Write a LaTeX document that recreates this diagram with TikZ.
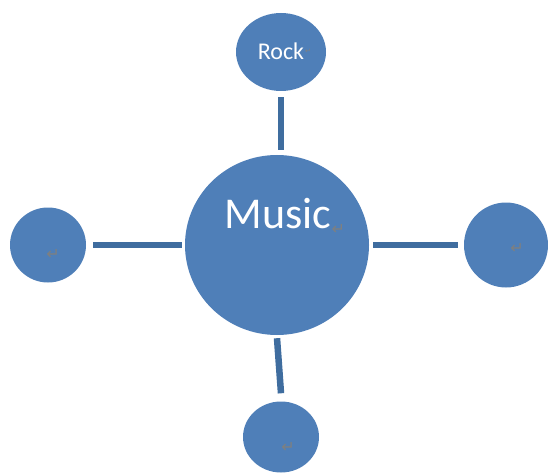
\documentclass[tikz,border=0pt]{standalone}
\usepackage{fontspec}
\setmainfont{Carlito}
\newfontfamily\symfont{DejaVu Sans}
\usetikzlibrary{shapes.geometric}
\definecolor{fillblue}{HTML}{4F7FB8}
\definecolor{lineblue}{HTML}{3F6D9F}
\definecolor{retgray}{HTML}{7F7F7F}
\begin{document}
\begin{tikzpicture}[x=1pt,y=-1pt,
 bub/.style={ellipse, fill=fillblue, inner sep=0pt},
 link/.style={draw=lineblue, line width=6.5pt},
 lbl/.style={text=white, inner sep=0pt},
 ret/.style={text=retgray, font=\symfont\fontsize{16}{16}\selectfont, inner sep=0pt}]
\useasboundingbox (0,0) rectangle (548,473);
\node[bub, minimum width=184pt, minimum height=180pt] (music) at (277,245) {};
\node[bub, minimum width=90pt, minimum height=78pt] (rock) at (281,52) {};
\node[bub, minimum width=76pt, minimum height=75pt] (left) at (48,245) {};
\node[bub, minimum width=84pt, minimum height=85pt] (right) at (506,245) {};
\node[bub, minimum width=76pt, minimum height=71pt] (bottom) at (281,437) {};
\draw[link] ([yshift=-6pt]rock.south) -- ([xshift=4pt,yshift=5pt]music.north);
\draw[link] ([xshift=7pt]left.east) -- ([xshift=-3pt]music.west);
\draw[link] ([xshift=4pt]music.east) -- ([xshift=-6pt]right.west);
\draw[link] ([yshift=-3pt]music.south) -- ([yshift=8pt]bottom.north);
\node[lbl, font=\fontsize{44}{44}\selectfont, anchor=base] (musictext) at (278,228) {Music};
\node[lbl, font=\fontsize{24}{24}\selectfont, anchor=base] (rocktext) at (281,60) {Rock};
\node[ret, anchor=base west] (musicret) at ([xshift=0pt,yshift=-6pt]musictext.base east) {↵};
\node[ret, font=\symfont\fontsize{7}{7}\selectfont, anchor=west] (rockret) at ([xshift=0.5pt]rocktext.east) {↵};
\node[ret] (leftret) at (53,254) {↵};
\node[ret] (rightret) at (517,248) {↵};
\node[ret] (bottomret) at (288,447) {↵};
\end{tikzpicture}
\end{document}
